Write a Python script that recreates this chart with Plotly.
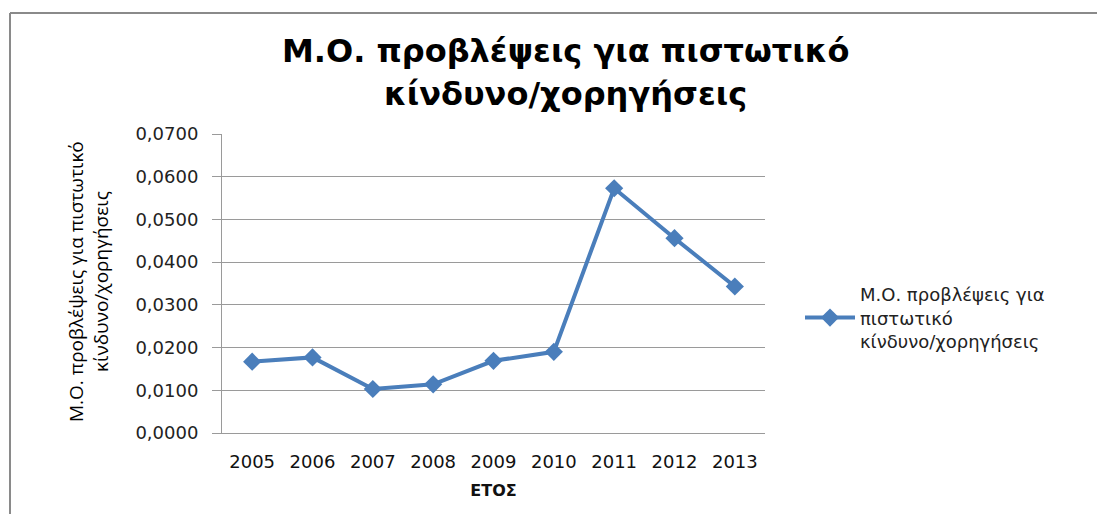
import plotly.graph_objects as go

years = ["2005", "2006", "2007", "2008", "2009", "2010", "2011", "2012", "2013"]
values = [0.0167, 0.0177, 0.0103, 0.0114, 0.0169, 0.0190, 0.0573, 0.0456, 0.0343]
series_name = "Μ.Ο. προβλέψεις για<br>πιστωτικό<br>κίνδυνο/χορηγήσεις"
title_line1 = "Μ.Ο. προβλέψεις για πιστωτικό"
title_line2 = "κίνδυνο/χορηγήσεις"
ytitle = "Μ.Ο. προβλέψεις για πιστωτικό<br>κίνδυνο/χορηγήσεις"
xtitle = "ΕΤΟΣ"

OFF = 8  # page body margin
W, H = 1105 - OFF, 514 - OFF
L, R, T, B = 222, 765, 134, 433  # target page pixel positions of plot area

def px(x):
    return (x - L) / (R - L)

def py(y):
    return (B - y) / (B - T)

fig = go.Figure()
fig.add_trace(go.Scatter(
    x=years, y=values, mode="lines+markers", name=series_name,
    line=dict(color="#4a7ebb", width=4),
    marker=dict(symbol="diamond", size=14, color="#4a7ebb"),
))

fig.update_layout(
    width=W, height=H,
    margin=dict(l=L - OFF, r=W - (R - OFF), t=T - OFF, b=H - (B - OFF)),
    paper_bgcolor="white", plot_bgcolor="white",
    separators=",.",
    showlegend=True,
    legend=dict(x=px(800), y=py(318), xanchor="left", yanchor="middle",
                font=dict(family="DejaVu Sans", size=18, color="#222"),
                bgcolor="rgba(0,0,0,0)", itemwidth=50, tracegroupgap=0),
    xaxis=dict(type="category", showgrid=False, showline=True, linecolor="#9a9a9a",
               linewidth=1, ticks="", ticklabelstandoff=12,
               tickfont=dict(family="DejaVu Sans", size=18, color="#111"),
               title=dict(text="<b>" + xtitle + "</b>", font=dict(family="DejaVu Sans", size=16, color="#111"), standoff=14),
               range=[-0.5, 8.5]),
    yaxis=dict(range=[0, 0.07], dtick=0.01, tickformat=".4f", showgrid=True,
               gridcolor="#9a9a9a", gridwidth=1, showline=True, linecolor="#9a9a9a",
               ticks="outside", ticklen=9, tickcolor="#9a9a9a", ticklabelstandoff=10,
               tickfont=dict(family="DejaVu Sans", size=18, color="#222"), zeroline=False),
    annotations=[
        dict(text="<b>" + title_line1 + "</b>", x=px(565), y=py(51), xref="paper", yref="paper",
             showarrow=False, font=dict(family="DejaVu Sans", size=32, color="#000"),
             xanchor="center", yanchor="middle"),
        dict(text="<b>" + title_line2 + "</b>", x=px(565), y=py(94), xref="paper", yref="paper",
             showarrow=False, font=dict(family="DejaVu Sans", size=32, color="#000"),
             xanchor="center", yanchor="middle"),
        dict(text=ytitle, x=px(88), y=py(282), xref="paper", yref="paper",
             showarrow=False, textangle=-90, font=dict(family="Open Sans", size=19, color="#000"),
             xanchor="center", yanchor="middle"),
    ],
    shapes=[
        dict(type="line", xref="paper", yref="paper", x0=px(10), x1=px(1110), y0=py(13), y1=py(13),
             line=dict(color="#8a8a8a", width=2)),
        dict(type="line", xref="paper", yref="paper", x0=px(10), x1=px(10), y0=py(13), y1=py(520),
             line=dict(color="#8a8a8a", width=2)),
    ],
)

fig.write_html("out.html")
